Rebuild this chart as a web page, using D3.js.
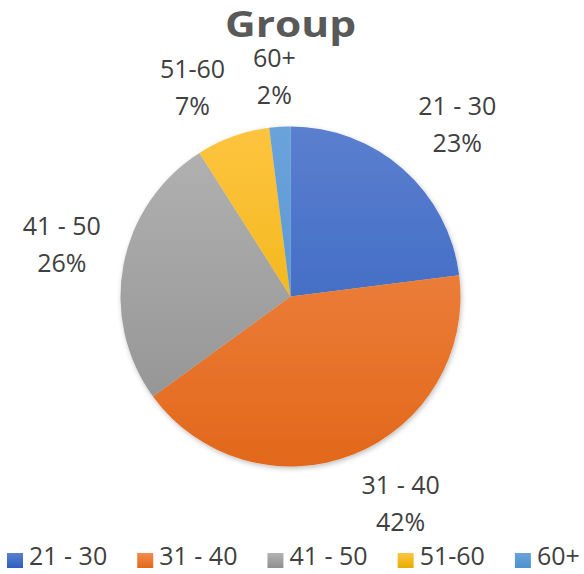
<!DOCTYPE html>
<html>
<head>
<meta charset="utf-8">
<script src="https://cdn.jsdelivr.net/npm/d3@7"></script>
<style>
  body { margin: 0; background: #fff; }
  text { font-family: "Open Sans", "Noto Sans", sans-serif; }
</style>
</head>
<body>
<div id="chart"></div>
<script>
// chart data
const categories = ['21 - 30', '31 - 40', '41 - 50', '51-60', '60+'];
const shares = [23, 42, 26, 7, 2];
const percentLabels = ['23%', '42%', '26%', '7%', '2%'];
const topColors = ['#5b7fcf', '#f28c4e', '#b3b3b3', '#ffc43f', '#6aa3da'];
const bottomColors = ['#2d5ebd', '#e2681b', '#8f8f8f', '#e6ae00', '#4f8fcf'];

const width = 584;
const height = 574;
const cx = 290.5;
const cy = 296.5;
const radius = 170;
const labelGap = 23;      // distance from pie edge to nearest corner of a label
const lineGap = 37;       // distance between the two label lines
const capHeight = 18;

const svg = d3.select('#chart').append('svg')
  .attr('width', width)
  .attr('height', height);

const defs = svg.append('defs');

// vertical gradient per slice, spanning the whole pie
categories.forEach((c, i) => {
  const g = defs.append('linearGradient')
    .attr('id', 'grad' + i)
    .attr('gradientUnits', 'userSpaceOnUse')
    .attr('x1', 0).attr('y1', -radius)
    .attr('x2', 0).attr('y2', radius);
  g.append('stop').attr('offset', '0%').attr('stop-color', topColors[i]);
  g.append('stop').attr('offset', '100%').attr('stop-color', bottomColors[i]);

  const lg = defs.append('linearGradient')
    .attr('id', 'legendGrad' + i)
    .attr('x1', 0).attr('y1', 0).attr('x2', 0).attr('y2', 1);
  lg.append('stop').attr('offset', '0%').attr('stop-color', topColors[i]);
  lg.append('stop').attr('offset', '100%').attr('stop-color', bottomColors[i]);
});

const shadow = defs.append('filter').attr('id', 'shadow')
  .attr('x', '-20%').attr('y', '-20%').attr('width', '140%').attr('height', '140%');
shadow.append('feDropShadow')
  .attr('dx', 1).attr('dy', 2).attr('stdDeviation', 2.5)
  .attr('flood-color', '#000').attr('flood-opacity', 0.25);

// title
svg.append('text')
  .attr('transform', `translate(${cx},37) scale(1.18,1)`)
  .attr('text-anchor', 'middle')
  .attr('font-size', 36)
  .attr('font-weight', 'bold')
  .attr('fill', '#595959')
  .text('Group');

const pie = d3.pie().sort(null).value(d => d);
const arcs = pie(shares);

const arc = d3.arc().innerRadius(0).outerRadius(radius);
const anchorArc = d3.arc()
  .innerRadius(radius + labelGap)
  .outerRadius(radius + labelGap);

const g = svg.append('g').attr('transform', `translate(${cx},${cy})`);

g.append('g')
  .attr('filter', 'url(#shadow)')
  .selectAll('path')
  .data(arcs)
  .enter()
  .append('path')
  .attr('d', arc)
  .attr('fill', (d, i) => `url(#grad${i})`);

// data labels: category and percent on two lines, placed outside the pie
const labels = g.selectAll('.label')
  .data(arcs)
  .enter()
  .append('text')
  .attr('class', 'label')
  .attr('text-anchor', 'middle')
  .attr('font-size', 25)
  .attr('fill', '#404040');

labels.append('tspan')
  .attr('x', 0)
  .attr('y', -lineGap / 2 + capHeight / 2)
  .text((d, i) => categories[i]);

labels.append('tspan')
  .attr('x', 0)
  .attr('y', lineGap / 2 + capHeight / 2)
  .text((d, i) => percentLabels[i]);

labels.attr('transform', function(d) {
  const [px, py] = anchorArc.centroid(d);
  const a = (d.startAngle + d.endAngle) / 2;
  const w = d3.max(d3.select(this).selectAll('tspan').nodes(), n => n.getComputedTextLength());
  const h = lineGap + capHeight;
  const sx = Math.max(-1, Math.min(1, 3 * Math.sin(a)));
  const sy = Math.max(-1, Math.min(1, 3 * Math.cos(a)));
  return `translate(${px + sx * w / 2},${py - sy * h / 2})`;
});

// legend, items laid out one after another
const legend = svg.append('g');
let lx = 7;
categories.forEach((c, i) => {
  const item = legend.append('g').attr('transform', `translate(${lx},0)`);
  item.append('rect')
    .attr('x', 0)
    .attr('y', 553)
    .attr('width', 16)
    .attr('height', 15)
    .attr('fill', `url(#legendGrad${i})`);
  const t = item.append('text')
    .attr('x', 22)
    .attr('y', 565)
    .attr('font-size', 25)
    .attr('fill', '#404040')
    .text(c);
  lx += 22 + t.node().getComputedTextLength() + 30;
});
</script>
</body>
</html>
